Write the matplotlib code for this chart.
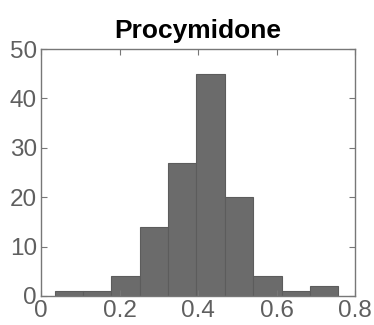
import matplotlib
matplotlib.use("Agg")
import matplotlib.pyplot as plt
import numpy as np

bin_edges = [0.035, 0.107, 0.179, 0.252, 0.324, 0.396, 0.468, 0.540, 0.613, 0.685, 0.757]
counts = [1, 1, 4, 14, 27, 45, 20, 4, 1, 2]
xticks = [0, 0.2, 0.4, 0.6, 0.8]
yticks = [0, 10, 20, 30, 40, 50]
title = "Procymidone"

plt.rcParams['font.family'] = ['Liberation Sans', 'DejaVu Sans']

fig = plt.figure(figsize=(3.74, 3.25), dpi=100)
ax = fig.add_axes([41/374, 29/325, 314/374, 247/325])

edges = np.array(bin_edges)
ax.bar(edges[:-1], counts, width=np.diff(edges), align='edge',
       color='#6b6b6b', edgecolor='#5c5c5c', linewidth=0.8)

ax.set_xlim(0, 0.8)
ax.set_ylim(0, 50)
ax.set_xticks(xticks)
ax.set_xticklabels([f"{t:g}" for t in xticks])
ax.set_yticks(yticks)
axis_col = '#777777'
for s in ax.spines.values():
    s.set_color(axis_col)
    s.set_linewidth(1.0)
ax.tick_params(direction='in', top=True, right=True, length=4, width=0.8,
               color=axis_col, labelcolor='#5f5f5f', labelsize=17.5, pad=3)
ax.set_title(title, fontsize=19, fontweight='bold', color='black', pad=8)

fig.savefig("out.png", dpi=100)
